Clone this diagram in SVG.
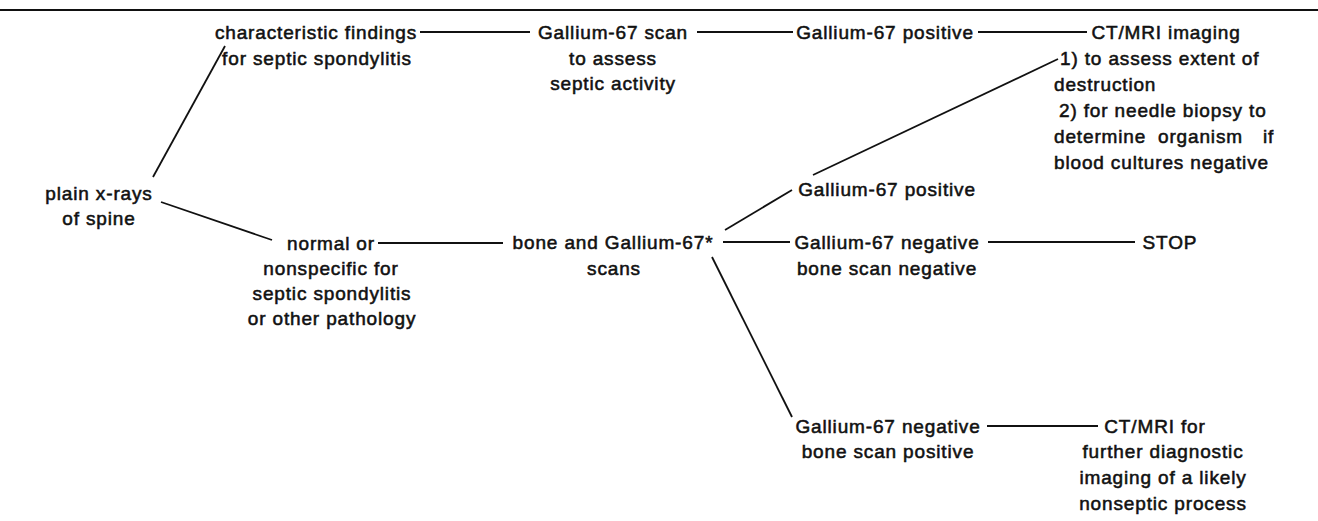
<svg xmlns="http://www.w3.org/2000/svg" width="1318" height="521" viewBox="0 0 1318 521">
<style>
.t{font-family:"Liberation Sans",Arial,Helvetica,sans-serif;font-size:19px;letter-spacing:0.85px;fill:#111;stroke:#111;stroke-width:0.55}
.m{text-anchor:middle}
.ln{stroke:#111;stroke-width:1.8;fill:none}
</style>
<rect width="1318" height="521" fill="#fff"/>
<line class="ln" x1="0" y1="10" x2="1318" y2="10" stroke-width="2"/>
<g id="connectors">
<line class="ln" x1="153" y1="177" x2="225" y2="46"/>
<line class="ln" x1="161" y1="202" x2="272" y2="240"/>
<line class="ln" x1="420" y1="32" x2="530" y2="32"/>
<line class="ln" x1="697" y1="32" x2="793" y2="32"/>
<line class="ln" x1="978" y1="32" x2="1087" y2="32"/>
<line class="ln" x1="378" y1="243" x2="503" y2="243"/>
<line class="ln" x1="725" y1="230" x2="792" y2="190"/>
<line class="ln" x1="813" y1="175" x2="1058" y2="59"/>
<line class="ln" x1="723" y1="242" x2="790" y2="242"/>
<line class="ln" x1="988" y1="242" x2="1135" y2="242"/>
<line class="ln" x1="712" y1="257" x2="792" y2="417"/>
<line class="ln" x1="987" y1="426" x2="1098" y2="426"/>
</g>
<g id="n-xray"><text class="t m" x="99" y="200">plain x-rays</text><text class="t m" x="99" y="225">of spine</text></g>
<g id="n-char"><text class="t m" x="316" y="39">characteristic findings</text><text class="t m" x="317" y="65">for septic spondylitis</text></g>
<g id="n-gascan"><text class="t m" x="613" y="39">Gallium-67 scan</text><text class="t m" x="613" y="65">to assess</text><text class="t m" x="613" y="90">septic activity</text></g>
<g id="n-gapos1"><text class="t m" x="885" y="39">Gallium-67 positive</text></g>
<g id="n-ctmri"><text class="t m" x="1166" y="39">CT/MRI imaging</text>
<text class="t" x="1060" y="65">1) to assess extent of</text>
<text class="t" x="1054" y="91">destruction</text>
<text class="t" x="1059" y="117">2) for needle biopsy to</text>
<text class="t" x="1054" y="143">determine<tspan x="1158">organism</tspan><tspan x="1263">if</tspan></text>
<text class="t" x="1054" y="169">blood cultures negative</text></g>
<g id="n-normal"><text class="t m" x="331" y="250">normal or</text><text class="t m" x="331" y="275">nonspecific for</text><text class="t m" x="332" y="300">septic spondylitis</text><text class="t m" x="332" y="325">or other pathology</text></g>
<g id="n-bone"><text class="t m" x="613" y="249">bone and Gallium-67*</text><text class="t m" x="614" y="275">scans</text></g>
<g id="n-gapos2"><text class="t m" x="887" y="196">Gallium-67 positive</text></g>
<g id="n-ganeg1"><text class="t m" x="887" y="249">Gallium-67 negative</text><text class="t m" x="887" y="275">bone scan negative</text></g>
<g id="n-stop"><text class="t m" x="1170" y="249">STOP</text></g>
<g id="n-ganeg2"><text class="t m" x="888" y="433">Gallium-67 negative</text><text class="t m" x="888" y="458">bone scan positive</text></g>
<g id="n-ctmri2"><text class="t m" x="1155" y="433">CT/MRI for</text><text class="t m" x="1163" y="458">further diagnostic</text><text class="t m" x="1163" y="484">imaging of a likely</text><text class="t m" x="1163" y="510">nonseptic process</text></g>
</svg>
